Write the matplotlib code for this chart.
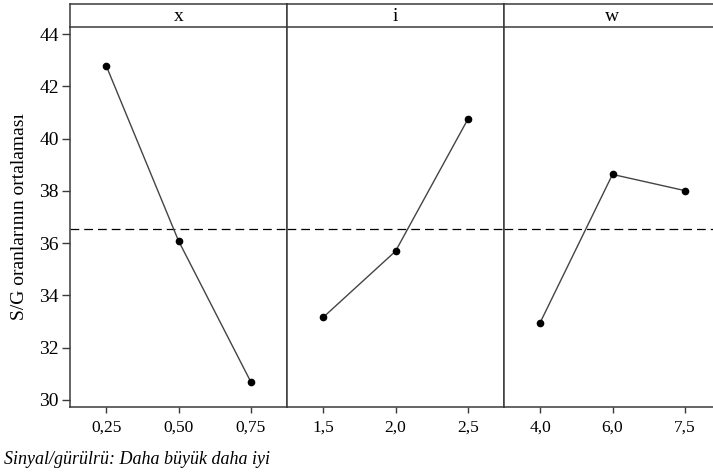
import numpy as np
import matplotlib.pyplot as plt

plt.rcParams['font.family'] = ['Liberation Serif', 'DejaVu Serif']

# factor levels and mean S/N ratios
factors = ['x', 'i', 'w']
x_levels = ['0,25', '0,50', '0,75']
i_levels = ['1,5', '2,0', '2,5']
w_levels = ['4,0', '6,0', '7,5']
x_sn = [42.79, 36.09, 30.69]
i_sn = [33.16, 35.69, 40.74]
w_sn = [32.96, 38.63, 38.01]
overall_mean = 36.55

levels = [x_levels, i_levels, w_levels]
means = [x_sn, i_sn, w_sn]

fig = plt.figure(figsize=(7.13, 4.76), dpi=100)

W, H = 713, 476
left_px, panel_w = 70, 217
top_px, strip_top, bottom_px = 27, 4, 407
edge = '#3a3a3a'

for k in range(3):
    x0 = (left_px + k * panel_w) / W
    ax = fig.add_axes([x0, 1 - bottom_px / H, panel_w / W, (bottom_px - top_px) / H])
    strip = fig.add_axes([x0, 1 - top_px / H, panel_w / W, (top_px - strip_top) / H])

    pos = np.arange(1, 4)
    ax.plot(pos, means[k], color='#444444', lw=1.0, marker='o', ms=4.5,
            mfc='black', mec='black', zorder=3)
    ax.axhline(overall_mean, color='black', lw=0.9, ls=(0, (7, 4)), zorder=2)

    ax.set_xlim(0.5, 3.5)
    ax.set_ylim(29.73, 44.27)
    ax.set_xticks(pos)
    ax.set_xticklabels(levels[k])
    ax.set_yticks(np.arange(30, 45, 2))
    ax.tick_params(axis='x', direction='out', length=4, width=1, color=edge,
                   labelsize=12.5, pad=5)
    if k == 0:
        ax.tick_params(axis='y', direction='out', length=6, width=1, color=edge,
                       labelsize=14, pad=2)
        ax.set_ylabel('S/G oranlarının ortalaması', fontsize=14, labelpad=8)
    else:
        ax.tick_params(axis='y', left=False, labelleft=False)
    for s in ax.spines.values():
        s.set_color(edge)
        s.set_linewidth(1.1)
    ax.spines['top'].set_visible(False)
    if k == 2:
        ax.spines['right'].set_visible(False)

    strip.set_xticks([])
    strip.set_yticks([])
    for s in strip.spines.values():
        s.set_color(edge)
        s.set_linewidth(1.1)
    strip.text(0.5, 0.45, factors[k], ha='center', va='center', fontsize=14,
               transform=strip.transAxes)

fig.text(4 / W, 1 - 460 / H, 'Sinyal/gürülrü: Daha büyük daha iyi',
         fontsize=13, style='italic', ha='left', va='center')

fig.savefig('out.png', dpi=100)
